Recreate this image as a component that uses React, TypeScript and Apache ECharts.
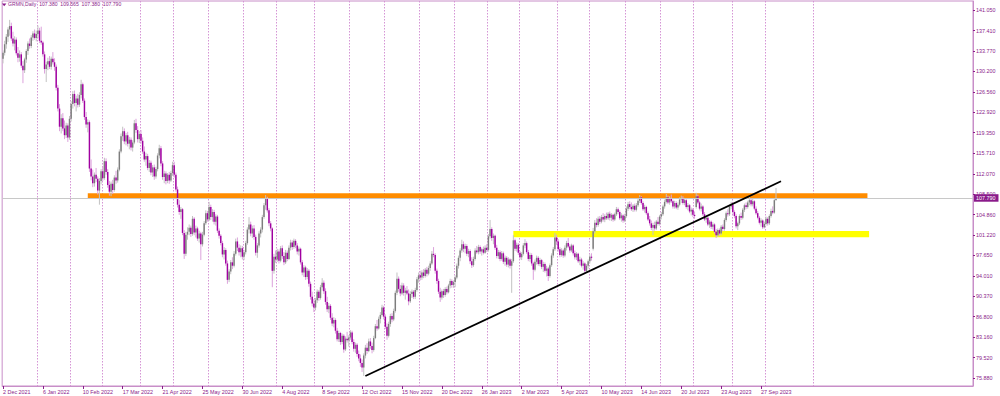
import React, { useEffect, useRef } from "react";
import * as echarts from "echarts";

// ---------- labels / axes ----------
const SYMBOL = "GRMN";
const PERIOD = "Daily";
const TICK_LABELS = [
  "2 Dec 2021", "6 Jan 2022", "10 Feb 2022", "17 Mar 2022", "21 Apr 2022", "25 May 2022",
  "30 Jun 2022", "4 Aug 2022", "8 Sep 2022", "12 Oct 2022", "15 Nov 2022", "20 Dec 2022",
  "26 Jan 2023", "2 Mar 2023", "5 Apr 2023", "10 May 2023", "14 Jun 2023", "20 Jul 2023",
  "23 Aug 2023", "27 Sep 2023",
];
const LABEL_STEP = 24; // bars between date labels
const GRID_IDX = [21, 41, 60, 83, 103, 124, 145, 165, 188, 209, 230, 251, 272, 292, 311, 334, 353, 375, 396, 416, 439, 459, 488];
const SLOTS = 584; // bars visible incl. empty space on the right
const Y_TICKS = [75.88, 79.52, 83.16, 86.8, 90.37, 94.01, 97.65, 101.22, 104.86, 108.5, 112.07, 115.71, 119.35, 122.92, 126.56, 130.2, 133.77, 137.41, 141.05];
const Y_MIN = 74.52;
const Y_MAX = 142.64;

// ---------- daily bars [open, high, low, close] ----------
const DEC21 = [
  [132.4,133.9,131.6,133.5],[133.5,135.6,133.0,135.0],[135.0,136.8,134.2,136.3],[136.3,138.0,135.4,137.6],[137.6,139.3,136.5,138.2],
  [138.2,138.8,135.6,136.0],[136.0,137.2,134.6,135.1],[135.1,136.4,133.9,135.8],[135.8,136.2,133.0,133.4],[133.4,134.5,131.8,132.6],
  [132.6,133.9,131.9,133.2],[133.2,133.6,130.8,131.2],[131.2,132.0,128.1,130.4],[130.4,132.6,129.9,132.3],[132.3,134.1,131.7,133.8],
  [133.8,135.5,133.1,135.1],[135.1,136.0,134.2,134.7],[134.7,136.6,134.3,136.2],[136.2,137.3,135.6,136.9],[136.9,137.6,135.8,136.1],
  [136.1,137.4,135.5,136.8],
];
const JAN22 = [
  [136.8,138.3,136.1,137.4],[137.4,137.9,135.2,135.6],[135.6,138.1,134.9,135.3],[135.3,135.6,132.8,133.2],[133.2,133.7,129.8,130.6],
  [130.6,131.9,128.3,131.4],[131.4,132.6,130.4,132.0],[132.0,132.9,130.6,131.0],[131.0,132.8,130.5,132.4],[132.4,133.6,131.4,131.8],
  [131.8,132.5,130.3,131.0],[131.0,131.4,126.8,127.3],[127.3,127.8,123.1,123.6],[123.6,124.4,119.6,120.4],[120.4,122.6,119.2,121.9],
  [121.9,122.8,119.6,120.1],[120.1,121.5,118.2,118.9],[118.9,121.1,118.4,120.6],[120.6,121.0,117.7,118.5],[118.5,122.3,118.1,121.8],
];
const FEB22 = [
  [121.8,124.9,121.3,124.4],[124.4,126.7,123.6,126.2],[126.2,126.8,124.0,124.6],[124.6,125.9,123.1,125.4],[125.4,126.2,123.8,124.3],
  [124.3,126.5,123.9,126.0],[126.0,128.7,125.4,127.9],[127.9,128.2,124.6,125.0],[125.0,125.4,121.6,122.1],[122.1,123.0,120.2,120.8],
  [120.8,121.7,119.4,121.2],[121.2,121.5,112.4,113.0],[113.0,114.6,110.9,111.6],[111.6,112.8,109.7,110.4],[110.4,112.3,109.8,111.9],
  [111.9,113.1,110.6,111.2],[111.2,111.6,108.4,109.1],[109.1,111.3,106.6,110.8],[110.8,112.9,110.2,112.5],
];
const MAR22 = [
  [112.5,113.4,110.8,111.3],[111.3,114.9,111.0,114.3],[114.3,114.8,111.9,112.4],[112.4,112.9,109.6,110.1],[110.1,110.8,108.2,108.9],
  [108.9,110.7,108.1,110.3],[110.3,111.0,108.5,109.2],[109.2,111.8,108.9,111.4],[111.4,112.6,110.3,110.9],[110.9,113.2,110.5,112.8],
  [112.8,116.4,112.5,116.0],[116.0,119.2,115.7,118.7],[118.7,120.4,117.9,119.6],[119.6,120.1,117.3,117.8],[117.8,119.3,117.1,118.9],
  [118.9,119.5,116.9,117.4],[117.4,118.6,116.4,118.1],[118.1,118.5,116.2,116.7],[116.7,118.0,116.0,117.6],[117.6,121.6,117.3,121.0],
  [121.0,121.8,119.3,119.8],[119.8,120.5,117.6,118.2],[118.2,119.6,117.5,119.1],
];
const APR22 = [
  [119.1,119.8,117.4,117.9],[117.9,118.5,115.6,116.0],[116.0,116.9,114.2,114.6],[114.6,115.8,113.5,115.2],[115.2,115.6,112.7,113.1],
  [113.1,114.5,112.4,114.0],[114.0,114.4,111.8,112.3],[112.3,113.6,111.5,113.2],[113.2,113.7,111.0,111.6],[111.6,113.3,111.2,112.9],
  [112.9,115.7,112.5,115.3],[115.3,117.2,114.8,116.6],[116.6,117.0,113.4,113.9],[113.9,114.3,111.0,111.5],[111.5,112.6,110.4,112.1],
  [112.1,112.5,110.2,110.8],[110.8,112.2,110.4,111.9],[111.9,112.4,110.3,110.9],[110.9,112.6,110.6,112.2],[112.2,114.2,111.7,113.6],
];
const MAY22 = [
  [113.6,114.2,111.4,111.9],[111.9,112.3,108.9,109.3],[109.3,109.8,106.1,106.6],[106.6,107.4,104.8,105.3],[105.3,106.2,104.1,105.8],
  [105.8,106.0,101.2,101.6],[101.6,102.1,97.0,97.9],[97.9,101.8,97.5,101.3],[101.3,102.6,100.4,101.8],[101.8,103.1,101.2,102.5],
  [102.5,102.9,100.9,101.4],[101.4,104.6,101.1,104.1],[104.1,104.4,101.2,101.7],[101.7,102.9,100.8,102.4],[102.4,102.7,100.2,100.6],
  [100.6,102.0,99.9,101.5],[101.5,101.8,96.8,99.6],[99.6,101.8,99.2,101.3],[101.3,103.7,101.0,103.3],[103.3,105.6,103.0,105.1],
  [105.1,105.5,103.6,104.0],
];
const JUN22 = [
  [104.0,107.1,103.7,106.2],[106.2,106.6,103.9,104.4],[104.4,105.8,103.6,105.3],[105.3,105.7,103.1,103.6],[103.6,104.9,102.9,104.5],
  [104.5,104.8,101.6,102.0],[102.0,102.4,100.6,101.1],[101.1,101.4,99.4,99.8],[99.8,100.2,97.3,97.8],[97.8,99.1,96.9,98.6],
  [98.6,98.9,95.8,96.2],[96.2,96.7,92.6,93.3],[93.3,95.2,92.9,94.8],[94.8,96.8,94.3,96.4],[96.4,97.3,95.2,95.8],
  [95.8,98.4,95.5,97.9],[97.9,100.6,97.6,100.1],[100.1,100.8,98.4,99.0],[99.0,99.6,97.6,98.2],[98.2,99.4,97.3,98.9],
  [98.9,99.3,96.9,97.4],
];
const JUL22 = [
  [97.4,98.6,96.8,98.2],[98.2,100.2,97.8,99.8],[99.8,102.6,99.5,102.2],[102.2,104.4,101.5,103.1],[103.1,103.6,101.0,101.5],
  [101.5,102.9,100.7,102.4],[102.4,103.0,100.4,100.9],[100.9,101.3,97.6,98.1],[98.1,99.8,97.2,99.4],[99.4,101.9,99.0,101.5],
  [101.5,102.6,100.8,102.2],[102.2,104.8,101.7,104.4],[104.4,106.9,104.1,106.5],[106.5,108.3,105.7,107.6],[107.6,108.0,105.2,105.6],
  [105.6,106.0,102.8,103.3],[103.3,103.7,101.9,102.4],[102.4,102.6,92.0,94.9],[94.9,97.9,94.4,97.4],[97.4,98.5,96.3,96.9],
];
const AUG22 = [
  [96.9,98.8,96.5,98.3],[98.3,98.7,96.2,96.7],[96.7,99.3,96.4,98.9],[98.9,99.4,97.0,97.5],[97.5,98.2,95.9,96.4],
  [96.4,98.6,96.1,98.1],[98.1,98.5,96.6,97.0],[97.0,99.4,96.8,99.0],[99.0,100.4,98.5,99.9],[99.9,100.3,98.6,99.1],
  [99.1,100.6,98.8,100.2],[100.2,100.5,98.9,99.4],[99.4,99.8,97.8,98.3],[98.3,99.2,97.6,98.8],[98.8,99.0,96.0,96.4],
  [96.4,96.8,94.1,94.6],[94.6,95.9,93.8,95.5],[95.5,95.8,93.3,93.8],[93.8,95.4,93.4,94.9],[94.9,95.2,92.1,92.6],
  [92.6,93.0,89.8,90.3],[90.3,91.2,88.6,89.1],[89.1,89.9,87.6,88.4],
];
const SEP22 = [
  [88.4,90.1,87.9,89.7],[89.7,91.6,89.2,91.2],[91.2,91.5,89.6,90.1],[90.1,92.4,89.8,92.0],[92.0,93.6,91.4,92.8],
  [92.8,93.2,90.8,91.3],[91.3,91.8,88.9,89.4],[89.4,90.3,87.6,88.1],[88.1,89.2,87.4,88.7],[88.7,89.0,86.2,86.6],
  [86.6,87.4,85.1,85.6],[85.6,86.7,84.9,86.2],[86.2,86.5,83.8,84.3],[84.3,84.8,82.4,82.8],[82.8,84.3,82.3,83.9],
  [83.9,84.1,81.8,82.3],[82.3,83.8,81.9,83.4],[83.4,83.7,80.4,81.0],[81.0,83.3,80.7,82.9],[82.9,84.1,82.2,82.6],
  [82.6,83.5,81.5,83.1],
];
const OCT22 = [
  [83.1,84.4,82.7,84.0],[84.0,84.3,81.9,82.3],[82.3,82.8,80.6,81.1],[81.1,82.2,80.4,81.8],[81.8,82.1,79.7,80.2],
  [80.2,80.8,78.9,79.4],[79.4,80.1,77.9,78.6],[78.6,79.2,77.0,77.8],[77.8,80.3,76.3,79.9],[79.9,81.8,79.4,81.3],
  [81.3,82.1,80.2,80.7],[80.7,82.9,80.5,82.4],[82.4,83.0,81.1,81.6],[81.6,82.2,80.3,80.9],[80.9,83.4,80.6,83.0],
  [83.0,85.5,82.8,85.1],[85.1,86.2,84.3,84.7],[84.7,86.8,84.5,86.4],[86.4,87.6,85.6,87.1],[87.1,88.9,86.8,88.4],
  [88.4,88.7,86.3,86.8],
];
const NOV22 = [
  [86.8,87.2,84.6,85.0],[85.0,85.6,82.7,83.4],[83.4,85.9,83.1,85.5],[85.5,87.3,85.0,86.9],[86.9,87.4,85.8,86.3],
  [86.3,88.2,86.0,87.8],[87.8,91.4,87.5,91.0],[91.0,94.6,90.6,93.5],[93.5,93.9,91.2,91.7],[91.7,92.4,90.4,90.9],
  [90.9,92.8,90.6,92.3],[92.3,92.7,90.5,91.0],[91.0,91.9,89.8,91.4],[91.4,92.2,90.6,90.9],[90.9,91.6,88.8,89.5],
  [89.5,91.3,89.2,90.8],[90.8,91.6,90.1,91.2],[91.2,91.5,89.9,90.3],[90.3,91.9,89.9,91.5],[91.5,93.8,91.2,93.4],
  [93.4,94.6,92.8,94.1],
];
const DEC22 = [
  [94.1,94.9,93.2,93.7],[93.7,95.0,93.3,94.6],[94.6,95.2,93.6,94.0],[94.0,95.4,93.7,95.1],[95.1,95.6,93.9,94.4],
  [94.4,95.8,94.1,95.4],[95.4,96.6,94.9,96.2],[96.2,98.4,95.9,97.9],[97.9,99.1,97.3,97.7],[97.7,98.0,94.4,94.9],
  [94.9,95.3,92.6,93.1],[93.1,93.5,90.8,91.2],[91.2,91.9,89.4,90.2],[90.2,91.6,89.8,91.3],[91.3,91.7,90.1,90.6],
  [90.6,92.0,90.3,91.7],[91.7,92.1,90.7,91.1],[91.1,92.6,90.9,92.3],[92.3,93.5,91.8,93.1],[93.1,93.4,91.9,92.4],
  [92.4,93.2,91.9,92.9],
];
const JAN23 = [
  [92.9,94.1,92.0,93.7],[93.7,96.2,93.4,95.8],[95.8,97.6,95.3,97.2],[97.2,98.9,96.6,98.5],[98.5,100.4,98.1,99.6],
  [99.6,100.1,98.2,98.8],[98.8,99.7,98.0,99.3],[99.3,99.6,97.5,97.9],[97.9,98.8,97.3,98.4],[98.4,98.7,96.1,96.6],
  [96.6,97.3,95.4,95.9],[95.9,97.4,95.6,97.0],[97.0,98.9,96.7,98.5],[98.5,99.3,97.9,98.2],[98.2,99.5,97.8,99.1],
  [99.1,99.4,97.9,98.3],[98.3,99.0,97.6,98.7],[98.7,99.2,97.8,98.1],[98.1,99.4,97.9,99.0],[99.0,99.6,98.2,98.6],
];
const FEB23 = [
  [98.6,101.4,98.3,101.0],[101.0,103.9,100.6,102.3],[102.3,102.6,100.2,100.7],[100.7,101.5,99.6,101.1],[101.1,101.3,98.6,99.0],
  [99.0,99.5,97.1,97.5],[97.5,98.6,97.0,98.2],[98.2,98.5,96.6,97.0],[97.0,98.4,96.7,98.0],[98.0,98.3,96.1,96.5],
  [96.5,97.6,95.8,97.2],[97.2,97.5,95.6,96.0],[96.0,97.3,95.5,96.9],[96.9,97.1,95.3,95.8],[95.8,97.0,91.0,96.6],
  [96.6,101.2,96.3,100.3],[100.3,100.6,98.4,98.8],[98.8,99.9,98.3,99.5],[99.5,99.8,97.7,98.1],
];
const MAR23 = [
  [98.1,98.4,96.9,97.3],[97.3,98.2,96.8,97.9],[97.9,99.8,97.6,99.4],[99.4,100.5,98.9,99.8],[99.8,100.1,97.9,98.2],
  [98.2,98.6,96.6,97.0],[97.0,98.1,96.5,97.7],[97.7,98.0,95.8,96.2],[96.2,96.5,93.3,95.1],[95.1,96.9,94.8,96.5],
  [96.5,97.6,96.0,97.2],[97.2,97.5,95.8,96.1],[96.1,97.2,95.7,96.8],[96.8,97.0,95.2,95.6],[95.6,96.5,94.7,96.1],
  [96.1,96.4,94.6,94.9],[94.9,95.8,93.9,95.3],[95.3,95.6,93.1,94.0],[94.0,96.2,93.7,95.9],[95.9,98.0,95.6,97.6],
  [97.6,99.1,97.2,98.7],[98.7,101.6,98.4,100.8],[100.8,101.3,99.5,100.1],
];
const APR23 = [
  [100.1,100.5,98.3,98.7],[98.7,99.1,97.3,97.7],[97.7,98.9,97.4,98.5],[98.5,98.8,97.2,97.6],[97.6,99.4,97.3,99.0],
  [99.0,100.2,98.5,99.8],[99.8,100.7,98.9,99.2],[99.2,99.6,98.1,98.5],[98.5,99.7,98.2,99.4],[99.4,99.6,97.6,98.0],
  [98.0,98.5,96.9,97.3],[97.3,98.2,96.8,97.9],[97.9,98.1,96.3,96.6],[96.6,97.4,95.9,96.9],[96.9,97.2,95.5,95.8],
  [95.8,96.6,95.1,96.2],[96.2,96.4,94.5,94.9],[94.9,96.1,94.6,95.8],[95.8,96.9,95.3,96.6],
];
const MAY23 = [
  [96.6,97.8,96.2,97.4],[97.4,98.0,96.7,97.2],[98.8,102.5,98.5,101.9],[101.9,103.9,101.5,103.4],[103.4,104.2,102.6,103.0],
  [103.0,104.5,102.7,104.1],[104.1,104.6,103.2,103.6],[103.6,104.8,103.3,104.4],[104.4,105.1,103.6,104.0],[104.0,104.9,103.5,104.6],
  [104.6,105.2,103.9,104.2],[104.2,105.3,103.9,105.0],[105.0,105.4,103.8,104.3],[104.3,105.1,103.7,104.8],[104.8,105.0,103.6,104.0],
  [104.0,105.2,103.7,104.9],[104.9,106.2,104.6,105.8],[105.8,106.1,104.9,105.3],[105.3,105.6,103.9,104.2],[104.2,105.1,103.6,104.7],
  [104.7,104.9,103.4,103.8],[103.8,105.0,103.5,104.6],
];
const JUN23 = [
  [104.6,106.3,104.3,105.9],[105.9,107.1,105.5,106.7],[106.7,107.2,105.8,106.2],[106.2,107.0,105.5,105.8],[105.8,106.7,105.3,106.4],
  [106.4,106.8,105.4,105.7],[105.7,106.9,105.4,106.5],[106.5,107.6,106.2,107.3],[107.3,108.3,106.9,107.9],[107.9,108.1,106.6,106.9],
  [106.9,107.2,105.5,105.8],[105.8,106.6,105.2,106.2],[106.2,106.4,104.8,105.1],[105.1,105.4,103.7,104.0],[104.0,104.6,102.9,103.3],
  [103.3,103.8,102.1,102.5],[102.5,103.4,101.2,103.0],[103.0,103.6,102.0,102.4],[102.4,103.9,102.1,103.6],[103.6,104.4,102.9,103.2],
  [103.2,104.8,102.9,104.5],
];
const JUL23 = [
  [104.5,105.3,104.0,104.9],[104.9,106.6,104.6,106.3],[106.3,107.5,105.9,107.1],[107.1,108.5,106.8,107.9],[107.9,108.2,106.7,107.0],
  [107.0,108.1,106.6,107.7],[107.7,108.4,106.9,107.2],[107.2,107.5,105.9,106.3],[106.3,107.3,105.9,106.9],[106.9,107.2,105.8,106.1],
  [106.1,107.0,105.7,106.6],[106.6,107.9,106.3,107.5],[107.5,108.2,106.9,107.8],[107.8,108.1,106.6,106.9],[106.9,107.8,106.5,107.4],
  [107.4,107.6,105.9,106.2],[106.2,106.9,105.6,106.5],[106.5,106.7,105.1,105.4],[105.4,106.1,104.7,105.7],[105.7,106.0,104.4,104.8],
];
const AUG23 = [
  [104.8,105.4,104.1,104.6],[106.2,108.7,105.9,108.1],[108.1,108.4,106.7,107.0],[107.0,107.3,105.6,105.9],[105.9,106.8,105.4,106.3],
  [106.3,106.5,104.6,104.9],[104.9,105.3,103.7,104.0],[104.0,104.8,103.4,104.3],[104.3,104.5,102.8,103.1],[103.1,103.9,102.5,103.6],
  [103.6,103.8,102.3,102.7],[102.7,103.5,102.2,103.1],[103.1,103.3,101.5,101.8],[101.8,102.3,100.7,101.2],[101.2,102.4,100.9,102.1],
  [102.1,102.4,101.1,101.5],[101.5,103.0,101.2,102.7],[102.7,103.1,101.9,102.3],[102.3,104.2,102.0,103.9],[103.9,105.4,103.6,105.1],
  [105.1,105.8,104.5,104.9],[104.9,106.6,104.6,106.3],[106.3,107.1,105.8,106.6],
];
const SEP23 = [
  [106.6,106.9,105.0,105.3],[105.3,105.6,104.2,104.6],[104.6,104.9,102.4,102.8],[102.8,103.6,102.1,103.3],[103.3,104.9,103.0,104.6],
  [104.6,105.2,103.9,104.3],[104.3,106.0,104.0,105.7],[105.7,106.8,105.3,106.5],[106.5,107.0,105.8,106.2],[106.2,107.3,105.9,107.0],
  [107.0,108.0,106.5,107.4],[107.4,107.7,106.3,106.7],[106.7,107.6,106.3,107.2],[107.2,107.4,105.6,105.9],[105.9,106.3,104.8,105.1],
  [105.1,105.5,104.0,104.3],[104.3,104.6,103.1,103.4],[103.4,104.2,102.7,103.8],[103.8,104.0,102.3,102.6],[102.6,103.6,102.4,103.2],
];
const OCT23 = [
  [103.2,104.5,102.9,104.1],[104.1,104.4,102.9,103.3],[103.3,104.9,103.0,104.6],[104.6,105.9,104.3,105.5],[105.5,106.3,104.9,105.2],
  [105.2,107.6,105.0,107.4],[107.38,109.565,107.38,107.79],
];

// ---------- drawn annotations (price levels / bar indices) ----------
const RESISTANCE_ZONE = { fromBar: 51, toBar: 520, low: 107.61, high: 108.62 };
const SUPPORT_ZONE = { fromBar: 307, toBar: 521, low: 100.83, high: 101.94 };
const TRENDLINE = { bar1: 218, price1: 76.29, bar2: 468, price2: 110.74 };

const MONTHS = [DEC21, JAN22, FEB22, MAR22, APR22, MAY22, JUN22, JUL22, AUG22, SEP22, OCT22, NOV22, DEC22,
  JAN23, FEB23, MAR23, APR23, MAY23, JUN23, JUL23, AUG23, SEP23, OCT23];
const OHLC: number[][] = MONTHS.flat();
const LAST = OHLC[OHLC.length - 1];

// ---------- colours ----------
const TEXT = "#8b1c8b";
const FRAME = "#c88ec8";
const GRIDC = "#d595d5";
const BODY_UP = "#7d7d7d";
const BODY_DN = "#a000a0";
const WICK_UP = "#c2c2c2";
const WICK_DN = "#dca2dc";

const fmt = (v: number) => v.toFixed(3);
const GRID_SET = new Set(GRID_IDX);
const isLabel = (i: number) => i % LABEL_STEP === 0 && i / LABEL_STEP < TICK_LABELS.length;

export default function App() {
  const ref = useRef<HTMLDivElement>(null);
  useEffect(() => {
    if (!ref.current) return;
    const chart = echarts.init(ref.current, undefined, { renderer: "svg" });
    const cats = Array.from({ length: SLOTS }, (_, i) => "b" + i);
    const data = OHLC.map((b, i) => [i, b[0], b[1], b[2], b[3]]);
    const option: any = {
      animation: false,
      backgroundColor: "#ffffff",
      textStyle: { fontFamily: "Liberation Sans, Arial, sans-serif" },
      title: {
        text: `${SYMBOL},${PERIOD}  ${fmt(LAST[0])}  ${fmt(LAST[1])}  ${fmt(LAST[2])}  ${fmt(LAST[3])}`,
        left: 8,
        top: 1.8,
        padding: 0,
        textStyle: { fontSize: 5.1, fontWeight: "normal", color: TEXT, fontFamily: "Liberation Sans, Arial, sans-serif" },
      },
      graphic: [
        { type: "polygon", shape: { points: [[2, 3.5], [6.4, 3.5], [4.2, 6.3]] }, style: { fill: TEXT } },
      ],
      grid: { left: 0, top: 1, right: 27, bottom: 10, show: true, borderColor: FRAME, borderWidth: 1, containLabel: false },
      xAxis: {
        type: "category",
        data: cats,
        boundaryGap: true,
        axisLine: { show: true, lineStyle: { color: FRAME, width: 1 } },
        axisTick: { show: true, alignWithLabel: true, length: 3, interval: (i: number) => isLabel(i), lineStyle: { color: TEXT } },
        axisLabel: {
          interval: (i: number) => isLabel(i),
          formatter: (_v: string, i: number) => TICK_LABELS[i / LABEL_STEP] ?? "",
          align: "left",
          fontSize: 5.4,
          color: TEXT,
          margin: 3,
          hideOverlap: false,
        },
        splitLine: {
          show: true,
          interval: (i: number) => GRID_SET.has(i),
          lineStyle: { color: GRIDC, type: [1.5, 1.5], width: 1 },
        },
      },
      yAxis: {
        type: "value",
        position: "right",
        min: Y_MIN,
        max: Y_MAX,
        axisLine: { show: true, lineStyle: { color: FRAME, width: 1 } },
        axisTick: { show: true, length: 2, customValues: Y_TICKS, lineStyle: { color: TEXT } },
        axisLabel: { customValues: Y_TICKS, formatter: (v: number) => fmt(v), fontSize: 5.4, color: TEXT, margin: 3 },
        splitLine: { show: false },
      },
      series: [
        {
          type: "line",
          z: 1,
          silent: true,
          data: [],
          markArea: {
            silent: true,
            data: [
              [
                { xAxis: RESISTANCE_ZONE.fromBar, yAxis: RESISTANCE_ZONE.high, itemStyle: { color: "#ff8c00", opacity: 1 } },
                { xAxis: RESISTANCE_ZONE.toBar, yAxis: RESISTANCE_ZONE.low },
              ],
              [
                { xAxis: SUPPORT_ZONE.fromBar, yAxis: SUPPORT_ZONE.high, itemStyle: { color: "#ffff00", opacity: 1 } },
                { xAxis: SUPPORT_ZONE.toBar, yAxis: SUPPORT_ZONE.low },
              ],
            ],
          },
        },
        {
          type: "line",
          z: 2,
          silent: true,
          data: [],
          markLine: {
            silent: true,
            symbol: ["none", "none"],
            lineStyle: { color: "#c8c8c8", width: 1, type: "solid" },
            label: {
              show: true,
              position: "end",
              distance: 1,
              formatter: fmt(LAST[3]),
              color: "#ffffff",
              backgroundColor: "#8a1a8a",
              fontSize: 5.4,
              padding: [1.5, 3, 1, 2],
            },
            data: [{ yAxis: LAST[3] }],
          },
        },
        {
          type: "custom",
          z: 3,
          silent: true,
          clip: true,
          encode: { x: 0, y: [1, 2, 3, 4] },
          data,
          renderItem: (_p: any, api: any) => {
            const i = api.value(0);
            const o = api.value(1), h = api.value(2), l = api.value(3), c = api.value(4);
            const x = api.coord([i, o])[0];
            const yo = api.coord([i, o])[1];
            const yc = api.coord([i, c])[1];
            const yh = api.coord([i, h])[1];
            const yl = api.coord([i, l])[1];
            const up = c >= o;
            const bw = 1.45;
            const top = Math.min(yo, yc);
            const bh = Math.max(Math.abs(yo - yc), 0.8);
            return {
              type: "group",
              children: [
                { type: "line", shape: { x1: x, y1: yh, x2: x, y2: yl }, style: { stroke: up ? WICK_UP : WICK_DN, lineWidth: 1 } },
                { type: "rect", shape: { x: x - bw / 2, y: top, width: bw, height: bh }, style: { fill: up ? BODY_UP : BODY_DN } },
              ],
            };
          },
        },
        {
          type: "line",
          z: 4,
          silent: true,
          data: [],
          markLine: {
            silent: true,
            symbol: ["none", "none"],
            label: { show: false },
            lineStyle: { color: "#000000", width: 1.8, type: "solid" },
            data: [[
              { coord: [TRENDLINE.bar1, TRENDLINE.price1] },
              { coord: [TRENDLINE.bar2, TRENDLINE.price2] },
            ]],
          },
        },
      ],
    };
    chart.setOption(option);
    return () => chart.dispose();
  }, []);
  return (
    <div
      ref={ref}
      style={{ position: "fixed", left: 0, top: 0, width: 1000, height: 396, background: "#fff" }}
    />
  );
}
